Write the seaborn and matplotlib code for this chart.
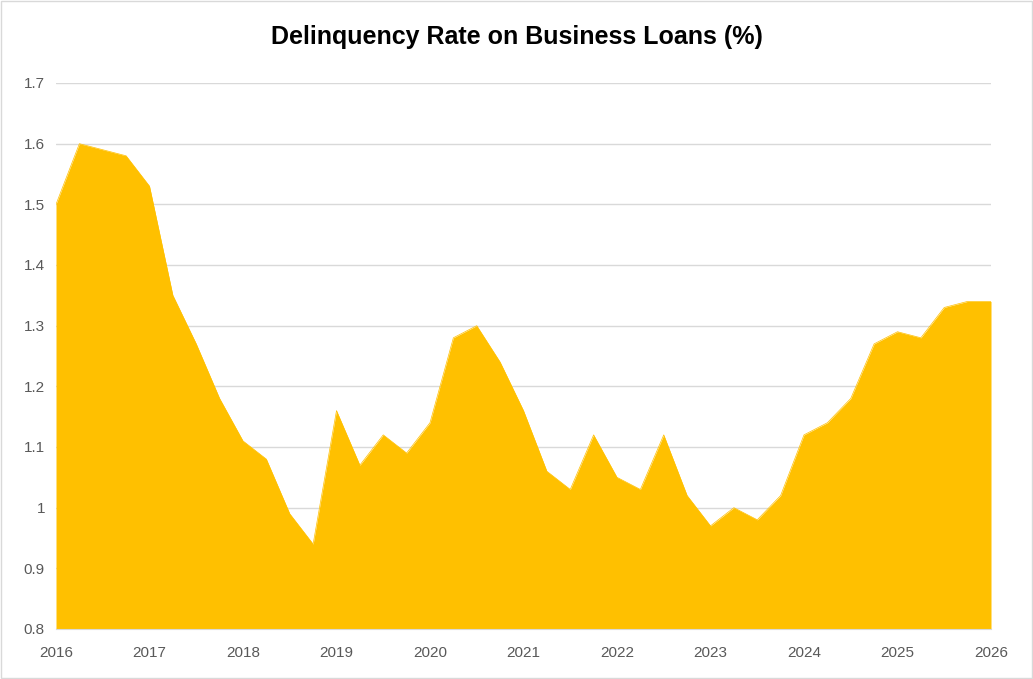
import matplotlib
matplotlib.use("Agg")
import matplotlib.pyplot as plt
import seaborn as sns
import numpy as np
import pandas as pd

years = [2016 + q * 0.25 for q in range(41)]
rates = [1.50, 1.60, 1.59, 1.58, 1.53, 1.35, 1.27, 1.18, 1.11, 1.08, 0.99, 0.94,
         1.16, 1.07, 1.12, 1.09, 1.14, 1.28, 1.30, 1.24, 1.16, 1.06, 1.03, 1.12,
         1.05, 1.03, 1.12, 1.02, 0.97, 1.00, 0.98, 1.02, 1.12, 1.14, 1.18, 1.27,
         1.29, 1.28, 1.33, 1.34, 1.34]
xticks = list(range(2016, 2027))
yticks = [0.8, 0.9, 1.0, 1.1, 1.2, 1.3, 1.4, 1.5, 1.6, 1.7]
ylabels = ["0.8", "0.9", "1", "1.1", "1.2", "1.3", "1.4", "1.5", "1.6", "1.7"]

sns.set_style("white")
plt.rcParams['font.family'] = ['Liberation Sans', 'DejaVu Sans']
df = pd.DataFrame({"year": years, "rate": rates})
color = "#FFC000"

fig = plt.figure(figsize=(10.33, 6.79), dpi=100)
ax = fig.add_axes([56/1033, 50/679, (991-56)/1033, (629-83)/679])
sns.lineplot(data=df, x="year", y="rate", ax=ax, color=color, linewidth=0.5)
ax.fill_between(df["year"], 0.8, df["rate"], color=color, linewidth=0)
ax.set_xlim(2016, 2026)
ax.set_ylim(0.8, 1.7)
ax.set_xticks(xticks)
ax.set_xticklabels([str(x) for x in xticks])
ax.set_yticks(yticks)
ax.set_yticklabels(ylabels)
ax.yaxis.grid(True, color="#D9D9D9", linewidth=1)
ax.set_axisbelow(True)
for s in ["top", "right", "left"]:
    ax.spines[s].set_visible(False)
ax.spines["bottom"].set_color("#D9D9D9")
ax.tick_params(axis="both", colors="#595959", labelsize=11, length=0, pad=8)
ax.tick_params(axis="x", length=4, color="#D9D9D9", direction="out")
ax.set_xlabel("")
ax.set_ylabel("")
fig.text(0.5, 0.945, "Delinquency Rate on Business Loans (%)", ha="center", va="center",
         fontsize=18, fontweight="bold", color="black")
fig.patches.append(plt.Rectangle((0.001, 0.001), 0.998, 0.998, transform=fig.transFigure,
                                 fill=False, edgecolor="#D9D9D9", linewidth=1))
fig.savefig("out.png", dpi=100)
